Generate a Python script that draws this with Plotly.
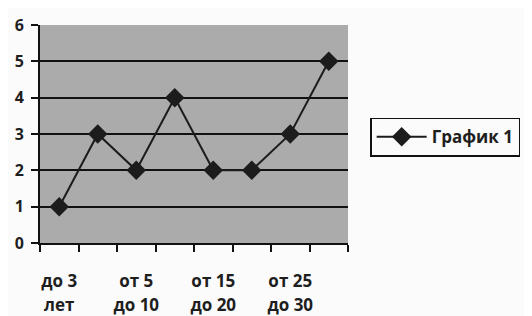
import plotly.graph_objects as go

# data
x_index = [0, 1, 2, 3, 4, 5, 6, 7]
values = [1, 3, 2, 4, 2, 2, 3, 5]
label_positions = [0, 2, 4, 6]
label_line1 = ["до 3", "от 5", "от 15", "от 25"]
label_line2 = ["лет", "до 10", "до 20", "до 30"]
y_ticks = [0, 1, 2, 3, 4, 5, 6]
series_name = "График 1"

FONT = "Open Sans"
bold_x = dict(family=FONT, size=17, color="#1e1e1e", weight=700)
bold_y = dict(family=FONT, size=16, color="#1e1e1e", weight=700)

fig = go.Figure()
fig.add_trace(go.Scatter(
    x=x_index, y=values, mode="lines+markers", name=series_name,
    line=dict(color="#1c1c1c", width=2),
    marker=dict(symbol="diamond", size=15, color="#1c1c1c"),
))
fig.add_trace(go.Scatter(x=[x_index[0]], y=[values[0]], xaxis="x3", showlegend=False,
                         mode="markers", marker=dict(opacity=0), hoverinfo="skip"))

xr = [-0.5, len(x_index) - 0.5]
boundaries = [i - 0.5 for i in range(len(x_index) + 1)]

fig.update_layout(
    width=524, height=308,
    margin=dict(l=32, r=177, t=17, b=73),
    paper_bgcolor="#fbfbfb",
    plot_bgcolor="#ababab",
    showlegend=True,
    legend=dict(
        x=1.072, y=0.575, xanchor="left", yanchor="top",
        bordercolor="#111111", borderwidth=1.5, bgcolor="#fbfbfb",
        font=dict(family=FONT, size=17, color="#1e1e1e", weight=700),
        itemwidth=50,
    ),
    xaxis=dict(
        range=xr, tickmode="array", tickvals=label_positions, ticktext=label_line1,
        ticks="", showgrid=False, zeroline=False, automargin=False,
        showline=True, linecolor="#111111", linewidth=2,
        tickfont=bold_x, ticklabelstandoff=22,
        minor=dict(tickvals=boundaries, ticks="outside", ticklen=7,
                   tickwidth=2, tickcolor="#111111", showgrid=False),
    ),
    xaxis3=dict(
        range=xr, overlaying="x", anchor="y", side="bottom", automargin=False,
        tickmode="array", tickvals=label_positions, ticktext=label_line2,
        ticks="", showgrid=False, zeroline=False, showline=False,
        tickfont=bold_x, ticklabelstandoff=50,
    ),
    yaxis=dict(
        range=[0, 6], tickmode="array", tickvals=y_ticks, automargin=False,
        ticks="outside", ticklen=7, tickwidth=2, tickcolor="#111111",
        showgrid=True, gridcolor="#111111", gridwidth=2,
        zeroline=False, showline=True, linecolor="#111111", linewidth=2,
        tickfont=bold_y, ticklabelstandoff=4,
    ),
)

fig.write_html("out.html")
